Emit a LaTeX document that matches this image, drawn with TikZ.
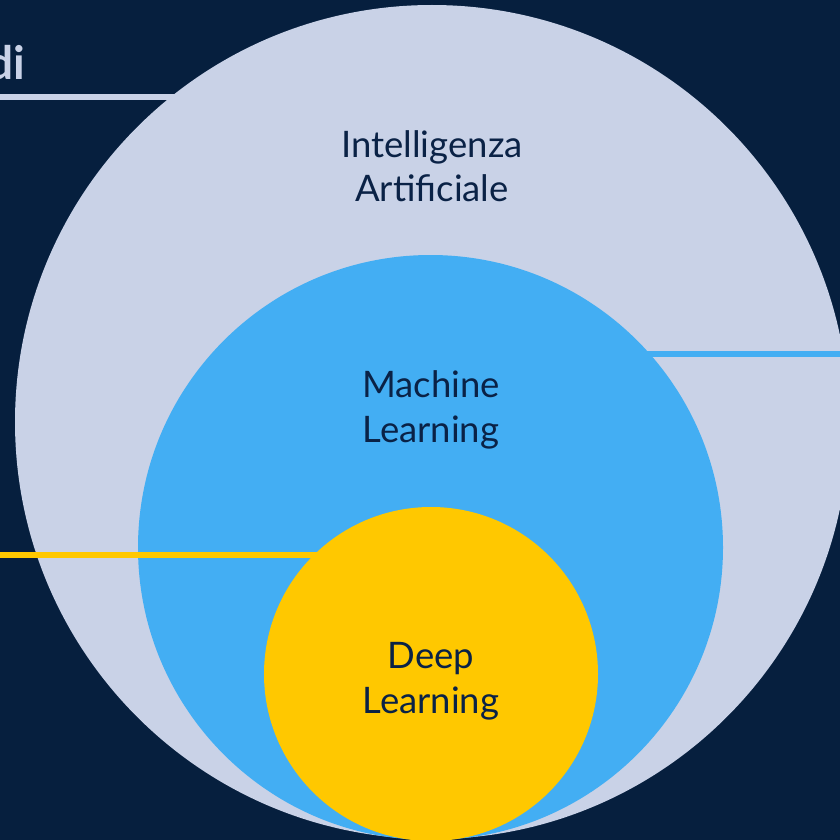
\documentclass[tikz,border=0pt]{standalone}
\usepackage{fontspec}
\setmainfont{Lato}
\definecolor{bgnavy}{HTML}{061F3E}
\definecolor{lav}{HTML}{C9D2E7}
\definecolor{skyb}{HTML}{43AEF3}
\definecolor{gold}{HTML}{FFC800}
\definecolor{txtnavy}{HTML}{0A2246}
\pgfdeclarelayer{L0}
\pgfdeclarelayer{L1}
\pgfdeclarelayer{L2}
\pgfdeclarelayer{L3}
\pgfdeclarelayer{L4}
\pgfdeclarelayer{L5}
\pgfdeclarelayer{L6}
\pgfsetlayers{L0,L1,L2,L3,L4,L5,L6,main}
\tikzset{
  disc/.style={circle, inner sep=0pt, outer sep=0pt, draw=none},
  bar/.style={line width=6pt},
  lbl/.style={anchor=base, inner sep=0pt, text=txtnavy, font=\fontsize{36.5}{45}\selectfont},
}
\begin{document}
\begin{tikzpicture}[x=1pt,y=-1pt]
\begin{pgfonlayer}{L0}
\fill[bgnavy] (0,0) rectangle (840,840);
\end{pgfonlayer}
\useasboundingbox (0,0) rectangle (840,840);
% circles
\begin{pgfonlayer}{L2}
\node[disc, fill=lav, minimum size=834pt] (ai) at (432,422) {};
\end{pgfonlayer}
\begin{pgfonlayer}{L4}
\node[disc, fill=skyb, minimum size=585pt] (ml) at (430.5,547.5) {};
\end{pgfonlayer}
\begin{pgfonlayer}{L6}
\node[disc, fill=gold, minimum size=334pt] (dl) at (431,674) {};
\end{pgfonlayer}
% lines
\coordinate (a0) at (0,97);
\coordinate (b0) at (840,354);
\coordinate (c0) at (0,554.5);
\begin{pgfonlayer}{L1}
\draw[bar, draw=lav] (a0) -- (a0 -| ai.center);
\end{pgfonlayer}
\begin{pgfonlayer}{L3}
\draw[bar, draw=skyb] (b0) -- (b0 -| ml.center);
\end{pgfonlayer}
\begin{pgfonlayer}{L5}
\draw[bar, draw=gold] (c0) -- (c0 -| dl.center);
\end{pgfonlayer}
% texts
\node[anchor=base east, inner sep=0pt, text=lav, font=\bfseries\fontsize{46}{50}\selectfont] (di) at (25,80) {di};
\node[lbl] (t1) at (432,157.5) {Intelligenza};
\node[lbl] (t2) at (432,201.7) {Artificiale};
\node[lbl] (t3) at (431,397.7) {Machine};
\node[lbl] (t4) at (431,442.7) {Learning};
\node[lbl] (t5) at (431,668) {Deep};
\node[lbl] (t6) at (431,713) {Learning};
\end{tikzpicture}
\end{document}
